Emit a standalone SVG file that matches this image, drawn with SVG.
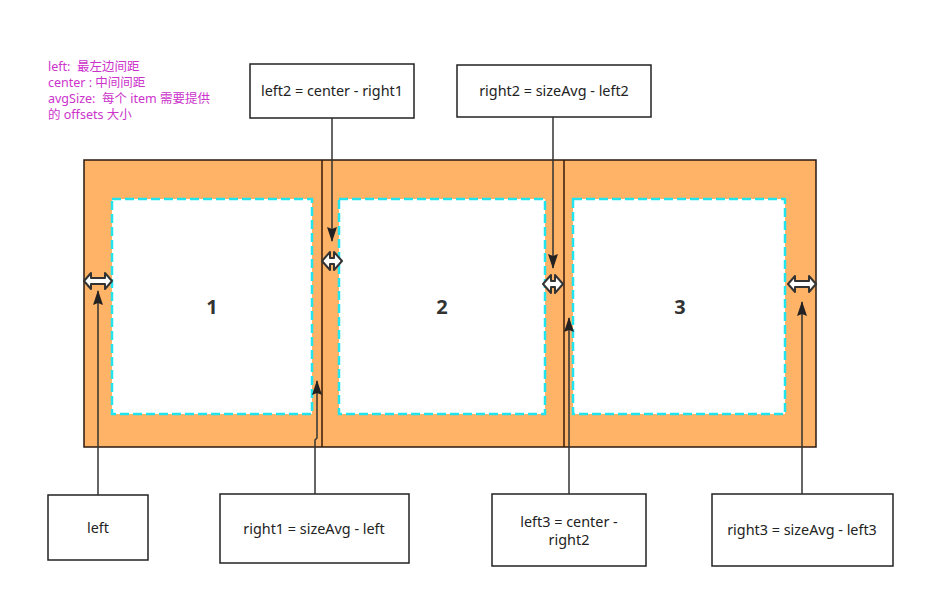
<svg xmlns="http://www.w3.org/2000/svg" width="925" height="597" viewBox="0 0 925 597">
<style>
.box{fill:#fff;stroke:#222;stroke-width:1.5}
.lbl{font-family:"Noto Sans","Noto Sans CJK SC",sans-serif;font-size:14.4px;fill:#222;text-anchor:middle}
.num{font-family:"Noto Sans","Noto Sans CJK SC",sans-serif;font-size:20px;font-weight:bold;fill:#333;text-anchor:middle}
.leg{font-family:"Noto Sans","Noto Sans CJK SC",sans-serif;font-size:12.5px;fill:#cc33cc;white-space:pre}
.item{fill:#fff;stroke:#22e4ee;stroke-width:2.5;stroke-dasharray:9 4}
.conn{fill:none;stroke:#333;stroke-width:1.5}
.div{stroke:#3a1a0a;stroke-width:1.5}
.dbl{fill:#fff;stroke:#333;stroke-width:2;stroke-linejoin:round}
</style>
<defs>
<marker id="ah" viewBox="0 0 15 11" refX="14" refY="5.5" markerWidth="15" markerHeight="11" markerUnits="userSpaceOnUse" orient="auto">
<path d="M0,0.5 L15,5.5 L0,10.5 L2,5.5 Z" fill="#222"/>
</marker>
<path id="hdbl" d="M-14,0 L-7,-8 L-7,-3 L7,-3 L7,-8 L14,0 L7,8 L7,3 L-7,3 L-7,8 Z"/>
<path id="sdbl" d="M-10,0 L-2,-9 L-2,-3 L2,-3 L2,-9 L10,0 L2,9 L2,3 L-2,3 L-2,9 Z"/>
</defs>
<rect width="925" height="597" fill="#fff"/>
<g id="legend">
<text class="leg" x="48" y="71" xml:space="preserve">left:  最左边间距</text>
<text class="leg" x="48" y="87" xml:space="preserve">center : 中间间距</text>
<text class="leg" x="48" y="103" xml:space="preserve">avgSize:  每个 item 需要提供</text>
<text class="leg" x="48" y="119" xml:space="preserve">的 offsets 大小</text>
</g>
<g id="container">
<rect x="84" y="160" width="732" height="287" fill="#ffb366" stroke="#2a1a10" stroke-width="1.5"/>
<line class="div" x1="322" y1="160" x2="322" y2="447"/>
<line class="div" x1="564" y1="160" x2="564" y2="447"/>
</g>
<g id="item1"><rect class="item" x="112" y="199" width="200" height="215"/><text class="num" x="212" y="314">1</text></g>
<g id="item2"><rect class="item" x="339" y="199" width="206" height="215"/><text class="num" x="442" y="314">2</text></g>
<g id="item3"><rect class="item" x="573" y="199" width="212" height="215"/><text class="num" x="680" y="314">3</text></g>
<g id="box-left2"><rect class="box" x="250" y="64" width="164" height="54"/><text class="lbl" x="332" y="96">left2 = center - right1</text></g>
<g id="box-right2"><rect class="box" x="457" y="65" width="194" height="52"/><text class="lbl" x="554" y="96">right2 = sizeAvg - left2</text></g>
<g id="box-left"><rect class="box" x="48" y="495" width="100" height="65"/><text class="lbl" x="98" y="533">left</text></g>
<g id="box-right1"><rect class="box" x="220" y="494" width="189" height="69"/><text class="lbl" x="314" y="534">right1 = sizeAvg - left</text></g>
<g id="box-left3"><rect class="box" x="492" y="494" width="154" height="72"/><text class="lbl" x="569" y="527">left3 = center -</text><text class="lbl" x="569" y="545">right2</text></g>
<g id="box-right3"><rect class="box" x="712" y="494" width="181" height="72"/><text class="lbl" x="802" y="535">right3 = sizeAvg - left3</text></g>
<g id="connectors">
<path class="conn" d="M332,118 V241" marker-end="url(#ah)"/>
<path class="conn" d="M553,117 V268" marker-end="url(#ah)"/>
<path class="conn" d="M98,495 V291" marker-end="url(#ah)"/>
<path class="conn" d="M315,494 V440 L317,438 V381" marker-end="url(#ah)"/>
<path class="conn" d="M569,494 V318" marker-end="url(#ah)"/>
<path class="conn" d="M802,494 V302" marker-end="url(#ah)"/>
</g>
<g id="spacing-arrows">
<use href="#hdbl" class="dbl" transform="translate(98,281)"/>
<use href="#sdbl" class="dbl" transform="translate(332,261)"/>
<use href="#sdbl" class="dbl" transform="translate(553,284)"/>
<use href="#hdbl" class="dbl" transform="translate(802,284)"/>
</g>
</svg>
